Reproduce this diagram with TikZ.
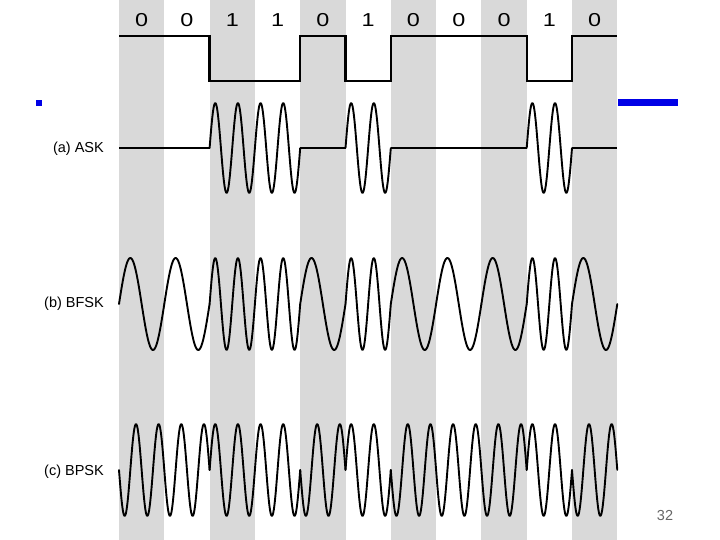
\documentclass[tikz,border=0pt]{standalone}
\usepackage{fontspec}
\setmainfont{Liberation Sans}
\usepackage{tikz}
\definecolor{slideblue}{RGB}{0,0,230}
\definecolor{stripegray}{RGB}{217,217,217}
\newcommand{\bitw}{45.3} % width of one bit slot
\newcommand{\xzero}{119} % left edge of the first slot

\begin{document}
\begin{tikzpicture}[x=1pt, y=-1pt,
                stripe/.style={fill=stripegray}, % shaded bit slots
                digital/.style={line width=2.4pt, line join=miter}, % data signal
                wave/.style={line width=1.9pt, line join=round, line cap=round}, % carrier
                restline/.style={line width=1.3pt}, % ASK off level
                bitlabel/.style={font=\fontsize{18.7}{22}\selectfont, anchor=base, inner sep=0pt},
                modlabel/.style={font=\fontsize{14.5}{17}\selectfont, anchor=base east, inner sep=0pt}
                ]
                \useasboundingbox[fill=white] (0,0) rectangle (720,540);
                % shaded slots
                \foreach \i in {0,2,...,10}
                    \fill[stripe] ({\xzero+\bitw*\i},0) rectangle ({\xzero+\bitw*(\i+1)},540);
                % bits and data signal
                \foreach \b [count=\i from 0] in {0,0,1,1,0,1,0,0,0,1,0}
                    \node[bitlabel] (bit\i) at ({\xzero+\bitw*(\i+0.5)},27) {\scalebox{1.25}[1]{\b}};
                \draw[digital] (\xzero,36) \foreach \b [count=\i from 0] in {0,0,1,1,0,1,0,0,0,1,0} {
                    -- ({\xzero+\bitw*\i},{36+45*\b}) -- ({\xzero+\bitw*(\i+1)},{36+45*\b}) };
                % (a) ASK
                \node[modlabel] (askLabel) at (104,152.5) {(a) ASK};
                \foreach \b [count=\i from 0] in {0,0,1,1,0,1,0,0,0,1,0} {
                    \ifnum\b=1
                        \draw[wave] plot[domain=0:1, samples=61, smooth, variable=\t]
                            ({\xzero+\bitw*(\i+\t)},{148-45*sin(720*\t)});
                    \else
                        \draw[restline] ({\xzero+\bitw*\i},148) -- ({\xzero+\bitw*(\i+1)},148);
                    \fi
                }
                % (b) BFSK
                \node[modlabel] (bfskLabel) at (104,307) {(b) BFSK};
                \foreach \b [count=\i from 0] in {0,0,1,1,0,1,0,0,0,1,0}
                    \draw[wave] plot[domain=0:1, samples=61, smooth, variable=\t]
                        ({\xzero+\bitw*(\i+\t)},{304-46*sin(360*(\b+1)*\t)});
                % (c) BPSK
                \node[modlabel] (bpskLabel) at (104,475) {(c) BPSK};
                \foreach \b [count=\i from 0] in {0,0,1,1,0,1,0,0,0,1,0}
                    \draw[wave] plot[domain=0:1, samples=61, smooth, variable=\t]
                        ({\xzero+\bitw*(\i+\t)},{470-46*(2*\b-1)*sin(720*\t)});
                % slide decorations
                \fill[slideblue] (36,100) rectangle (42,106);
                \fill[slideblue] (618,99) rectangle (678,106);
                \node[font=\fontsize{14.5}{17}\selectfont, text=black!60, anchor=base, inner sep=0pt] (pageNo) at (665,520) {32};
            \end{tikzpicture}
\end{document}
